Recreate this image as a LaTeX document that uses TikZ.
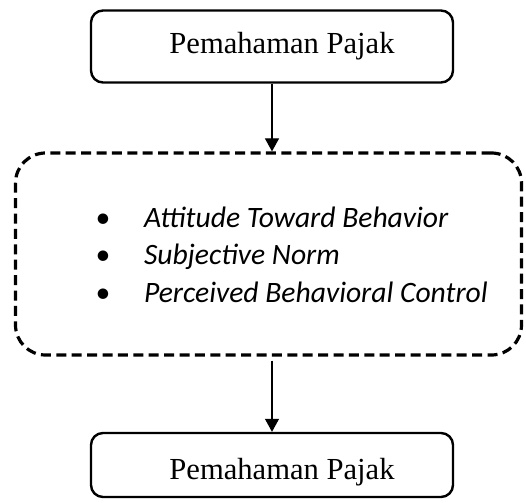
\documentclass[tikz,border=0pt]{standalone}
\usepackage{fontspec}
\setmainfont{Liberation Serif}
\newfontfamily\calibri{Carlito}
\usepackage{tikz}
\usetikzlibrary{arrows.meta}

\tikzset{
    varbox/.style={draw=black, line width=1.2pt, rounded corners=6pt,
        minimum width=181pt, minimum height=36pt, inner sep=0pt,
        font=\fontsize{15.3}{18}\selectfont},
    groupbox/.style={draw=black, line width=1.6pt, dash pattern=on 5pt off 2.7pt,
        rounded corners=15pt, minimum width=253pt, minimum height=101pt, inner sep=0pt},
    flow/.style={line width=0.55pt, -{Triangle[width=7pt,length=6.5pt]}}
}

\begin{document}
\begin{tikzpicture}[x=0.5pt,y=-0.5pt]
	\useasboundingbox (0,0) rectangle (526,503);

	\node[groupbox] at (268.5,254) (tpb) {%
		\calibri\itshape\fontsize{14.8}{18.75}\selectfont
		\raisebox{-1.5pt}[\height][\depth]{\begin{tabular}{@{\hspace{23pt}}l@{\hspace{17pt}}l@{}}
			\textbullet & Attitude Toward Behavior \\
			\textbullet & Subjective Norm \\
			\textbullet & Perceived Behavioral Control
		\end{tabular}}};

	\node[varbox] at (272,46.5) (pemahaman) {\hspace{10pt}Pemahaman Pajak};
	\node[varbox, minimum height=32pt] at (272,465) (hasil) {\raisebox{-3.5pt}[\height][\depth]{\hspace{10pt}Pemahaman Pajak}};

	\draw[flow] (pemahaman.south -| 272,0) -- (tpb.north -| 272,0);
	\draw[flow] ([yshift=-2pt]tpb.south -| 272,0) -- (hasil.north -| 272,0);
\end{tikzpicture}
\end{document}
